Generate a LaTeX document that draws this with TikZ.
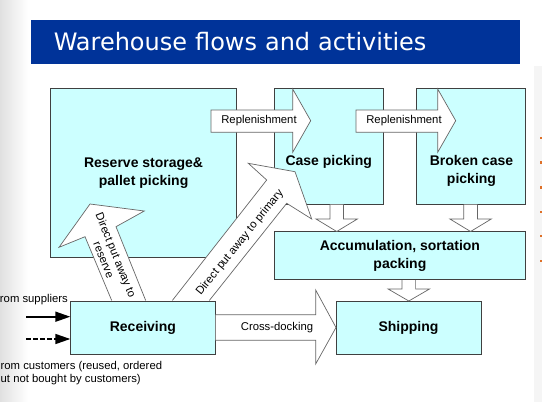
\documentclass[tikz,border=0pt]{standalone}
\usepackage{fontspec}
\setmainfont{Liberation Sans}
\newfontfamily\titlefont{DejaVu Sans}
\usetikzlibrary{arrows.meta}
\definecolor{boxcyan}{RGB}{204,255,255}
\definecolor{titleblue}{RGB}{0,51,153}
\definecolor{bulletorange}{RGB}{222,112,40}
\tikzset{
  box/.style={draw=black!75,fill=boxcyan,line width=0.9pt,inner sep=0pt},
  boxtext/.style={font=\fontsize{14}{18}\selectfont\bfseries,align=center},
  flow/.style={draw=black!60,fill=white,line width=0.7pt},
  flowtext/.style={font=\fontsize{11.3}{13}\selectfont},
  feed/.style={line width=1.6pt,-{Triangle[length=15pt,width=10pt]}}
}
\begin{document}
\begin{tikzpicture}[x=1pt,y=-1pt]
\useasboundingbox (0,0) rectangle (542,402);
\shade[left color=black!12,right color=white] (0,0) rectangle (28,402);
\fill[black!4] (534,66) rectangle (542,402);
\foreach \y in {137.7,162.3,187.3,211.7,236,260.7}
  \fill[bulletorange] (539.8,\y-1.2) rectangle (542,\y+1.2);
% title bar
\node[fill=titleblue,text=white,font=\titlefont\fontsize{24}{28}\selectfont,
  minimum width=488.5pt,minimum height=44.3pt,text width=443pt,inner xsep=22.7pt,
  align=left] (title) at (275.25,41.85) {Warehouse flows and activities};
% boxes
\node[box,boxtext,minimum width=186.3pt,minimum height=169.7pt] (reserve) at (143.6,172.9) {Reserve storage\&\\pallet picking};
\node[box,minimum width=108.6pt,minimum height=116pt] (case) at (328.7,146) {};
\node[box,minimum width=108.9pt,minimum height=116pt] (broken) at (471,146) {};
\node[box,boxtext,minimum width=251.2pt,minimum height=48pt] (accum) at (399.9,255.5) {Accumulation, sortation\\packing};
\node[box,boxtext,minimum width=144.3pt,minimum height=53pt] (recv) at (142.9,327.5) {Receiving};
\node[box,boxtext,minimum width=145pt,minimum height=53pt] (ship) at (408.5,327.5) {Shipping};
% replenishment
\foreach \dx/\nm in {0/repA,145/repB} {
  \draw[flow,xshift=\dx pt] (211,110) -- (292.7,110) -- (292.7,89) -- (310.7,120.7)
    -- (292.7,152.3) -- (292.7,132.3) -- (211,132.3) -- cycle;
  \node[flowtext] (\nm) at (259+\dx,121) {Replenishment};
}
% down into accumulation and shipping
\foreach \cx/\top/\mid/\tip in {336.7/204.5/219/231.5,470.6/204.5/219/231.5,408.8/280/289/301}
  \draw[flow] (\cx-6.8,\top) -- (\cx-6.8,\mid) -- (\cx-20.7,\mid) -- (\cx,\tip)
    -- (\cx+20.7,\mid) -- (\cx+6.8,\mid) -- (\cx+6.8,\top);
% cross-docking
\draw[flow] (215.5,314.7) -- (315.7,314.7) -- (315.7,290) -- (336,327.5)
  -- (315.7,364) -- (315.7,340.3) -- (215.5,340.3);
\node[flowtext] (xdock) at (277,327.5) {Cross-docking};
% direct put away
\draw[flow] (172.3,300.5) -- (266.7,180) -- (248.3,163.3) -- (295,171.7)
  -- (311.7,219) -- (286.7,203.3) -- (209.3,300.5);
\node[flowtext,rotate=51] (primary) at (240,242.5) {Direct put away to primary};
\draw[flow] (111.7,300.5) -- (85,236.7) -- (59,247.3) -- (90,204)
  -- (144.3,211) -- (116,226.7) -- (145.7,300.5);
\node[flowtext,align=center,rotate=-68] (toreserve) at (110,257.5) {Direct put away to\\reserve};
\node[boxtext] (casetxt) at (328.7,162) {Case picking};
\node[boxtext] (brokentxt) at (471.5,171) {Broken case\\picking};
% incoming
\node[flowtext,anchor=east,inner sep=0pt] (suppliers) at (68,299.5) {rom suppliers};
\coordinate (supin) at (26,316.7);
\coordinate (custin) at (26,339);
\draw[feed] (supin) -- (supin -| recv.west);
\draw[feed,dash pattern=on 4.5pt off 2.5pt] (custin) -- (custin -| recv.west);
\node[flowtext,anchor=west,align=left,inner sep=0pt] (customers) at (0.5,373) {rom customers (reused, ordered\\ut not bought by customers)};
\end{tikzpicture}
\end{document}
